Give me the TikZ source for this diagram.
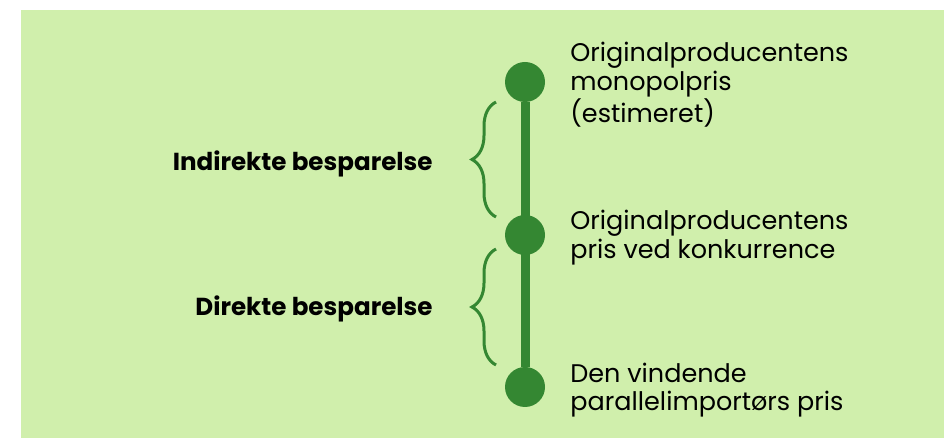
\documentclass[tikz,border=0pt]{standalone}
\usepackage{fontspec}
\setmainfont{Poppins}
\usetikzlibrary{decorations.pathreplacing}
\definecolor{bggreen}{RGB}{208,239,172}
\definecolor{dkgreen}{RGB}{52,135,50}

\begin{document}
\begin{tikzpicture}[x=0.5pt, y=-0.5pt,
  dot/.style={circle, fill=dkgreen, inner sep=0pt, minimum size=20pt},
  note/.style={anchor=west, align=left, inner sep=0pt, font=\fontsize{12.75}{14.25}\selectfont},
  saving/.style={anchor=east, inner sep=0pt, font=\fontsize{12.3}{14.25}\selectfont\bfseries},
  curly/.style={draw=dkgreen, line width=1.5pt, decorate, decoration={brace, amplitude=12pt}}]
\useasboundingbox (0,0) rectangle (944,438);
\fill [bggreen] (21,10) rectangle (944,438);

%the timeline
\node [dot] (mono) at (525,82) {};
\node [dot] (konk) at (525,235) {};
\node [dot] (pi) at (525,387) {};
\draw [dkgreen, line width=4.5pt] (mono) -- (pi);

\node [note] (monotxt) at (570,85) {Originalproducentens\\monopolpris\\(estimeret)};
\node [note] (konktxt) at (570,237.5) {Originalproducentens\\pris ved konkurrence};
\node [note] (pitxt) at (570,390) {Den vindende\\parallelimportørs pris};

%the braces
\coordinate (ia) at (496,217);
\coordinate (ib) at (496,102);
\coordinate (da) at (496,365);
\coordinate (db) at (496,249);
\draw [curly] (ia) -- (ib);
\draw [curly] (da) -- (db);

\node [saving] (indirekte) at (433,163.5) {Indirekte besparelse};
\node [saving] (direkte) at (433,308.5) {Direkte besparelse};
\end{tikzpicture}
\end{document}
